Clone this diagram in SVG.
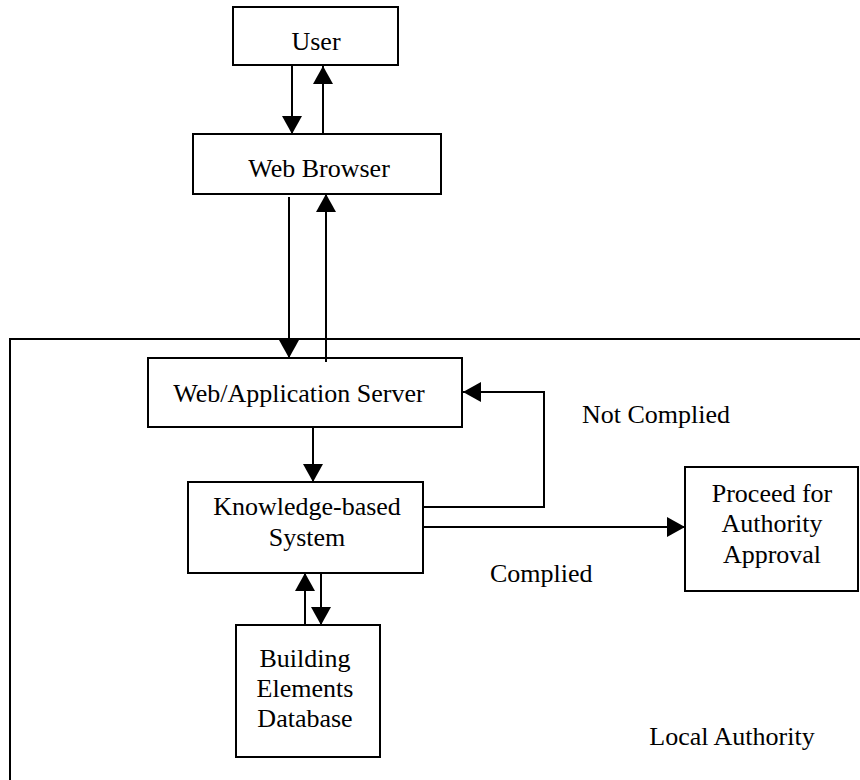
<svg xmlns="http://www.w3.org/2000/svg" width="860" height="780" viewBox="0 0 860 780">
<style>
.box{fill:#fff;stroke:#000;stroke-width:2}
.ln{fill:none;stroke:#000;stroke-width:2}
.arr{fill:none;stroke:#000;stroke-width:2;marker-end:url(#ah)}
text{font-family:"Liberation Serif","Times New Roman",serif;font-size:26px;fill:#000}
.c{text-anchor:middle}
</style>
<defs>
<marker id="ah" viewBox="0 0 18 20" refX="18" refY="10" markerWidth="18" markerHeight="20" markerUnits="userSpaceOnUse" orient="auto">
<path d="M0,0 L18,10 L0,20 z" fill="#000"/>
</marker>
</defs>
<rect width="860" height="780" fill="#fff"/>
<g id="local-authority">
<path class="ln" d="M860,339 H10 V780"/>
<text x="732" y="745" class="c">Local Authority</text>
</g>
<g id="user">
<rect class="box" x="233" y="7" width="165" height="58"/>
<text x="316" y="50" class="c">User</text>
</g>
<g id="web-browser">
<rect class="box" x="193" y="134" width="248" height="60"/>
<text x="319" y="177" class="c">Web Browser</text>
</g>
<g id="server">
<rect class="box" x="148" y="358" width="314" height="69"/>
<text x="299" y="402" class="c">Web/Application Server</text>
</g>
<g id="kbs">
<rect class="box" x="188" y="482" width="235" height="91"/>
<text x="307" y="515" class="c">Knowledge-based</text>
<text x="307" y="546" class="c">System</text>
</g>
<g id="database">
<rect class="box" x="236" y="625" width="144" height="132"/>
<text x="305" y="667" class="c">Building</text>
<text x="305" y="697" class="c">Elements</text>
<text x="305" y="727" class="c">Database</text>
</g>
<g id="proceed">
<rect class="box" x="685" y="467" width="173" height="124"/>
<text x="772" y="502" class="c">Proceed for</text>
<text x="772" y="532" class="c">Authority</text>
<text x="772" y="563" class="c">Approval</text>
</g>
<g id="connectors">
<line class="arr" x1="292" y1="65" x2="292" y2="134"/>
<line class="arr" x1="323" y1="134" x2="323" y2="66"/>
<line class="arr" x1="289" y1="197" x2="289" y2="358"/>
<line class="arr" x1="326" y1="362" x2="326" y2="194"/>
<line class="arr" x1="313" y1="427" x2="313" y2="482"/>
<path class="arr" d="M423,507 H544 V392 H463"/>
<line class="arr" x1="423" y1="527" x2="685" y2="527"/>
<line class="arr" x1="305" y1="625" x2="305" y2="573"/>
<line class="arr" x1="321" y1="573" x2="321" y2="625"/>
<text x="582" y="423">Not Complied</text>
<text x="490" y="582">Complied</text>
</g>
</svg>
